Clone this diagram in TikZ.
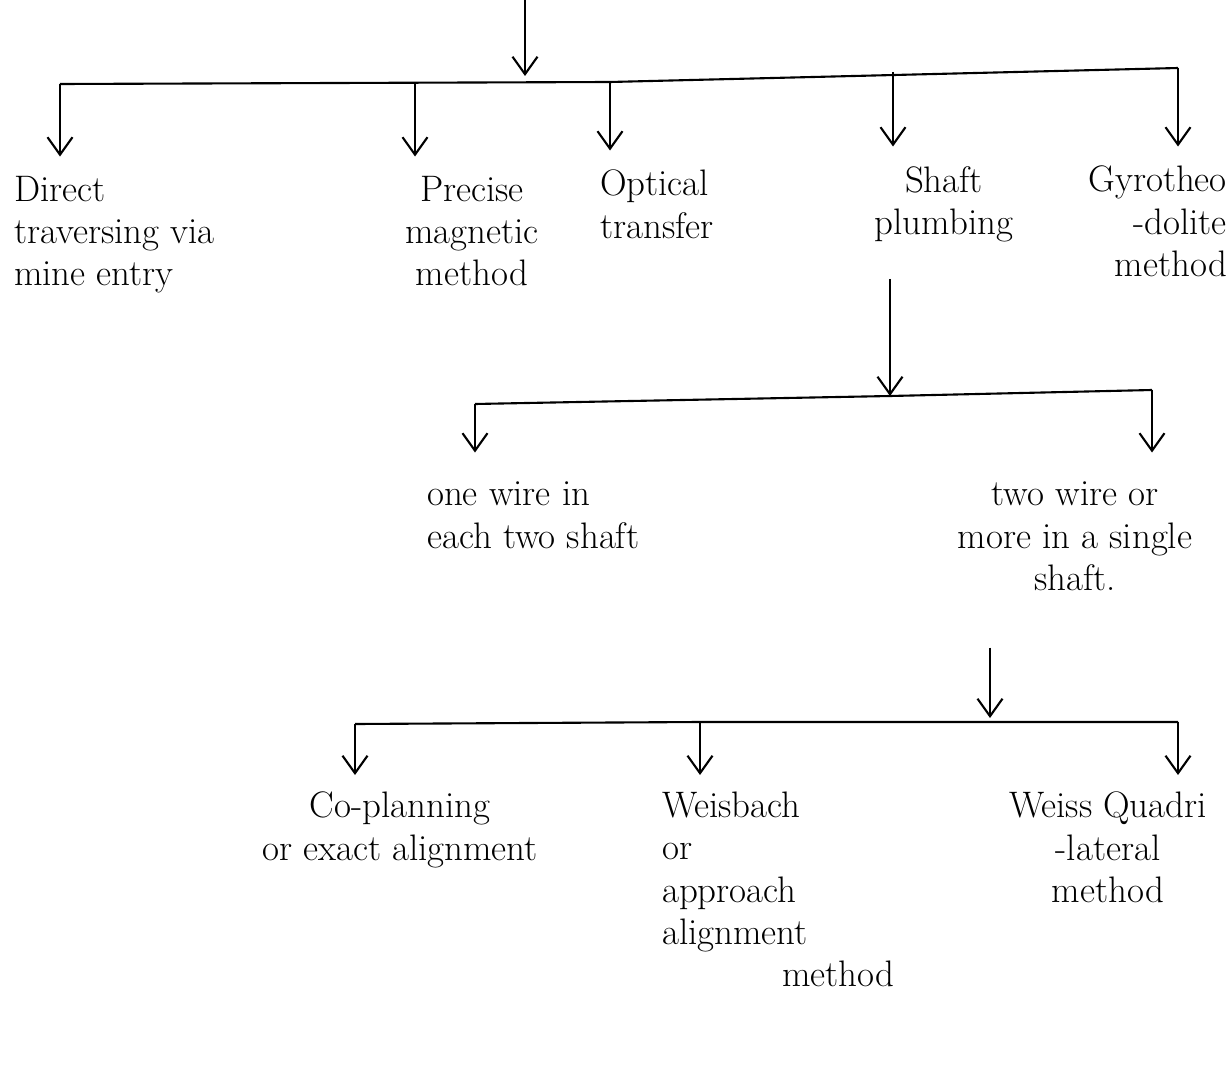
\documentclass[tikz,border=0pt]{standalone}
\usepackage{tikz}
\usetikzlibrary{positioning, arrows.meta}
\tikzset{
>={Straight Barb[length=3.5mm, width=5mm]}, % open hand-drawn arrow heads
every node/.style={font=\fontsize{21}{24}\selectfont, inner sep=1pt}, % sets the text size of every label
}

\begin{document}
\begin{tikzpicture}[
  x=0.02cm, y=-0.02cm,
  bar/.style={very thick, -},
  drop/.style={very thick, ->},
  stem/.style={very thick, ->, shorten <=#1}
]
  \useasboundingbox (0,0) rectangle (1231,1068);

  % first level
  \coordinate (src) at (525,0);
  \coordinate (t0) at (525,76);
  \coordinate (t1) at (60,84);
  \coordinate (t2) at (415,84);
  \coordinate (t3) at (610,82);
  \coordinate (t4) at (893,72);
  \coordinate (t5) at (1178,68);
  \node[anchor=north west, align=left] (direct) at (12,174) {Direct\\traversing via\\mine entry};
  \node[anchor=north, align=center] (precise) at (472,174) {Precise\\magnetic\\method};
  \node[anchor=north west, align=left] (optical) at (598,168) {Optical\\transfer};
  \node[anchor=north, align=center] (shaft) at (944,164) {Shaft\\plumbing};
  \node[anchor=north east, align=right] (gyro) at (1229,164) {Gyrotheo\\-dolite\\method};
  \draw[drop] (src) -- (t0);
  \draw[bar] (t1) -- (t3) -- (t5);
  \foreach \t/\n in {t1/direct, t2/precise, t3/optical, t4/shaft, t5/gyro}
    \draw[drop] (\t) -- ([yshift=3.5mm]\t |- \n.north);

  % second level
  \coordinate (m0) at (890,396);
  \coordinate (m1) at (475,404);
  \coordinate (m2) at (1152,390);
  \node[anchor=north west, align=left] (onewire) at (425,480) {one wire in\\each two shaft};
  \node[anchor=north, align=center] (twowire) at (1075,480) {two wire or\\more in a single\\shaft.};
  \draw[stem=7mm] (m0 |- shaft.south) -- (m0);
  \draw[bar] (m1) -- (m0) -- (m2);
  \draw[drop] (m1) -- ([yshift=5.5mm]m1 |- onewire.north);
  \draw[drop] (m2) -- ([yshift=5.5mm]m2 |- twowire.north);

  % third level
  \coordinate (b0) at (990,718);
  \coordinate (b1) at (355,724);
  \coordinate (b2) at (700,722);
  \coordinate (b3) at (1178,722);
  \node[anchor=north, align=center] (coplan) at (400,790) {Co-planning\\or exact alignment};
  \node[anchor=north west, align=left] (weisbach) at (660,790) {Weisbach\\or\\approach\\alignment\\\hspace*{2.4cm}method};
  \node[anchor=north, align=center] (quadri) at (1108,790) {Weiss Quadri\\-lateral\\method};
  \draw[stem=1.1cm] (b0 |- twowire.south) -- (b0);
  \draw[bar] (b1) -- (b2) -- (b3);
  \foreach \b/\n in {b1/coplan, b2/weisbach, b3/quadri}
    \draw[drop] (\b) -- ([yshift=3mm]\b |- \n.north);
\end{tikzpicture}
\end{document}
